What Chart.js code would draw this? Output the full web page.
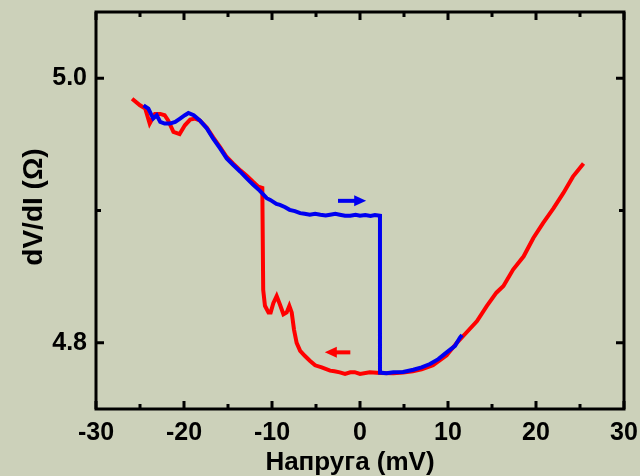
<!DOCTYPE html>
<html>
<head>
<meta charset="utf-8">
<script src="https://cdn.jsdelivr.net/npm/chart.js@4.4.1/dist/chart.umd.min.js"></script>
<style>
    html, body { margin: 0; padding: 0; background: #ccd1ba; }
    #wrap { width: 640px; height: 476px; }
</style>
</head>
<body>
<div id="wrap"><canvas id="dvdiChart" width="640" height="476"></canvas></div>
<script>
// Blue: forward sweep (-25 -> +12 mV)
const blueX = [-24.6, -24.05, -23.5, -23.1, -22.7, -22.2, -21.6, -21.0, -20.45, -19.9, -19.5, -18.9,
    -18.2, -17.4, -16.7, -15.9, -15.15, -14.4, -13.6, -12.9, -12.1, -11.4, -10.6, -10.2, -9.5, -9.1,
    -8.5, -8.0, -7.4, -6.8, -6.3, -5.7, -5.1, -4.5, -3.9, -3.4, -2.8, -2.3, -1.7, -1.1, -0.5, 0, 0.6, 1.2, 1.7, 2.27,
    2.27, 3.0, 3.8, 4.9, 6.06, 7.0, 7.95, 8.9, 9.85, 10.8, 11.36, 11.6];
const blueY = [4.9795, 4.977, 4.9695, 4.972, 4.967, 4.9657, 4.9657, 4.967, 4.9695, 4.972, 4.9737, 4.972,
    4.968, 4.962, 4.9544, 4.9469, 4.9394, 4.9344, 4.9293, 4.9244, 4.9193, 4.915, 4.9093, 4.908, 4.905, 4.9043,
    4.9025, 4.9005, 4.8995, 4.898, 4.8975, 4.8968, 4.8975, 4.8968, 4.8962, 4.8968, 4.8975, 4.8968, 4.896, 4.896, 4.8968, 4.896, 4.8965, 4.8958, 4.8965, 4.896,
    4.7775, 4.777, 4.7777, 4.778, 4.7797, 4.7815, 4.784, 4.7877, 4.7928, 4.7977, 4.804, 4.806];

// Red: backward sweep (+25 -> -26 mV)
const redX = [25.4, 24.2, 23.1, 22.0, 20.8, 19.7, 18.6, 17.4, 16.3, 15.5, 14.4, 13.3, 12.1, 11.0, 9.85,
    8.3, 7.0, 6.0, 4.9, 3.8, 2.3, 1.1, 0, -0.6, -1.1, -1.7, -2.3, -2.9, -3.4, -4.35, -5.1, -5.7, -6.25, -6.8, -7.2, -7.5,
    -7.76, -8.03, -8.33, -8.7, -9.1, -9.47, -9.85, -10.15, -10.4, -10.8, -11.0, -11.1, -11.55, -12.1, -12.9,
    -13.6, -14.4, -15.15, -15.9, -16.7, -17.4, -18.2, -18.75, -19.3, -19.9, -20.5, -21.2, -21.8, -22.2,
    -22.7, -23.3, -23.9, -24.4, -25.0, -25.9];
const redY = [4.9356, 4.9256, 4.9131, 4.9018, 4.8905, 4.8792, 4.8654, 4.8554, 4.8429, 4.8379, 4.8278, 4.8165, 4.8078, 4.8, 4.7905,
    4.783, 4.78, 4.7785, 4.7775, 4.777, 4.7772, 4.7777, 4.7765, 4.7778, 4.7777, 4.7765, 4.7777, 4.7785, 4.779, 4.7815, 4.783, 4.7865, 4.79, 4.794, 4.8, 4.81,
    4.823, 4.828, 4.823, 4.8216, 4.829, 4.8353, 4.83, 4.823, 4.823, 4.828, 4.84, 4.917, 4.918, 4.9213, 4.9264,
    4.9303, 4.9354, 4.9404, 4.9479, 4.9554, 4.9625, 4.968, 4.9695, 4.9687, 4.9644, 4.9577, 4.9594, 4.968, 4.972,
    4.973, 4.973, 4.9657, 4.977, 4.9795, 4.9845];

// Axis ticks
const xMajor = [-30, -20, -10, 0, 10, 20, 30];
const xMinor = [-25, -15, -5, 5, 15, 25];
const yMajor = [4.8, 5.0];
const yMinor = [4.9];

// Sweep direction arrows: [xFrom, xTo, y]
const blueArrow = [-2.5, 0.7, 4.9073];
const redArrow = [-1.1, -4.0, 4.7928];

const FONT = "'Liberation Sans', Arial, sans-serif";

function toPoints(xs, ys) {
    return xs.map((x, i) => ({ x: x, y: ys[i] }));
}

const framePlugin = {
    id: 'frame',
    beforeDraw(chart) {
        const ctx = chart.ctx;
        ctx.save();
        ctx.fillStyle = '#ccd1ba';
        ctx.fillRect(0, 0, chart.width, chart.height);
        ctx.restore();
    },
    afterDraw(chart) {
        const ctx = chart.ctx;
        const a = chart.chartArea;
        const xs = chart.scales.x;
        const ys = chart.scales.y;
        ctx.save();
        ctx.strokeStyle = '#000';
        ctx.lineWidth = 3;
        ctx.strokeRect(a.left, a.top, a.right - a.left, a.bottom - a.top);

        ctx.lineWidth = 3;
        function xTick(v, len) {
            const p = xs.getPixelForValue(v);
            ctx.beginPath();
            ctx.moveTo(p, a.bottom); ctx.lineTo(p, a.bottom - len);
            ctx.moveTo(p, a.top); ctx.lineTo(p, a.top + len);
            ctx.stroke();
        }
        function yTick(v, len) {
            const p = ys.getPixelForValue(v);
            ctx.beginPath();
            ctx.moveTo(a.left, p); ctx.lineTo(a.left + len, p);
            ctx.moveTo(a.right, p); ctx.lineTo(a.right - len, p);
            ctx.stroke();
        }
        xMajor.forEach(v => xTick(v, 8));
        xMinor.forEach(v => xTick(v, 5));
        yMajor.forEach(v => yTick(v, 8));
        yMinor.forEach(v => yTick(v, 5));

        function arrow(spec, color) {
            const x0 = xs.getPixelForValue(spec[0]);
            const x1 = xs.getPixelForValue(spec[1]);
            const y = ys.getPixelForValue(spec[2]);
            const dir = Math.sign(x1 - x0);
            ctx.strokeStyle = color;
            ctx.fillStyle = color;
            ctx.lineWidth = 4;
            ctx.beginPath();
            ctx.moveTo(x0, y); ctx.lineTo(x1 - dir * 9, y);
            ctx.stroke();
            ctx.beginPath();
            ctx.moveTo(x1, y);
            ctx.lineTo(x1 - dir * 12, y - 5.5);
            ctx.lineTo(x1 - dir * 12, y + 5.5);
            ctx.closePath();
            ctx.fill();
        }
        arrow(blueArrow, '#0000f0');
        arrow(redArrow, '#ff0000');

        // axis titles
        ctx.fillStyle = '#000';
        ctx.font = 'bold 26px ' + FONT;
        ctx.textAlign = 'center';
        ctx.textBaseline = 'alphabetic';
        ctx.fillText('Напруга (mV)', 350, 470);
        ctx.font = 'bold 28px ' + FONT;
        ctx.translate(42, 207);
        ctx.rotate(-Math.PI / 2);
        ctx.fillText('dV/dI (\u03A9)', 0, 0);
        ctx.restore();
    }
};

new Chart(document.getElementById('dvdiChart'), {
    type: 'scatter',
    data: {
        datasets: [{
            label: 'forward',
            data: toPoints(blueX, blueY),
            showLine: true,
            borderColor: '#0000f0',
            borderWidth: 4,
            pointRadius: 0,
            tension: 0
        }, {
            label: 'backward',
            data: toPoints(redX, redY),
            showLine: true,
            borderColor: '#ff0000',
            borderWidth: 4,
            pointRadius: 0,
            tension: 0
        }]
    },
    options: {
        responsive: false,
        animation: false,
        layout: { padding: { top: 12, right: 16, left: 0, bottom: 0 } },
        plugins: {
            legend: { display: false },
            tooltip: { enabled: false }
        },
        scales: {
            x: {
                type: 'linear',
                min: -30,
                max: 30,
                grid: { display: false, drawTicks: false },
                border: { display: false },
                afterBuildTicks: s => { s.ticks = xMajor.map(v => ({ value: v })); },
                afterFit: s => { s.height = 67; s.paddingLeft = 0; s.paddingRight = 0; },
                ticks: {
                    color: '#000',
                    padding: 9,
                    maxRotation: 0,
                    font: { family: FONT, size: 25, weight: 'bold' }
                }
            },
            y: {
                type: 'linear',
                min: 4.75,
                max: 5.05,
                grid: { display: false, drawTicks: false },
                border: { display: false },
                afterBuildTicks: s => { s.ticks = yMajor.map(v => ({ value: v })); },
                afterFit: s => { s.width = 96; s.paddingTop = 0; s.paddingBottom = 0; },
                ticks: {
                    color: '#000',
                    padding: 9,
                    callback: v => v.toFixed(1),
                    font: { family: FONT, size: 25, weight: 'bold' }
                }
            }
        }
    },
    plugins: [framePlugin]
});
</script>
</body>
</html>
